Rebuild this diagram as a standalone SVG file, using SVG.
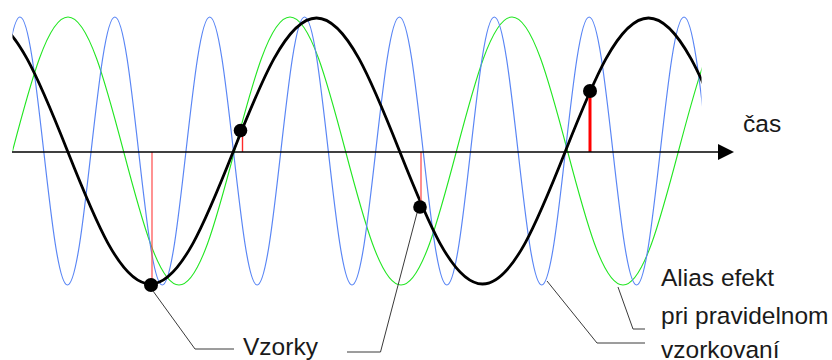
<svg xmlns="http://www.w3.org/2000/svg" width="832" height="360" viewBox="0 0 832 360">
<style>
.wave{fill:none;stroke-linejoin:round}
.blue{stroke:#5a86f5;stroke-width:1.2}
.green{stroke:#22e622;stroke-width:1.1}
.black{stroke:#000;stroke-width:2.8}
.lead{fill:none;stroke:#3a3a3a;stroke-width:1}
.smp{stroke:#ff2a2a}
.lbl{font-family:"Liberation Sans",Arial,sans-serif;font-size:24.5px;fill:#1a1a1a}
</style>
<defs>
<clipPath id="clip"><rect x="12.5" y="-10" width="689" height="380"/></clipPath>
</defs>
<rect width="832" height="360" fill="#fff"/>
<g id="waves" clip-path="url(#clip)">
<path id="green" class="wave green" d="M12.5,151 c18.1,-68.65 35.41,-134 55.5,-134 c20.09,0 37.4,65.35 55.5,134 c18.1,68.65 35.41,134 55.5,134 c20.09,0 37.4,-65.35 55.5,-134 c18.1,-68.65 35.41,-134 55.5,-134 c20.09,0 37.4,65.35 55.5,134 c18.1,68.65 35.41,134 55.5,134 c20.09,0 37.4,-65.35 55.5,-134 c18.1,-68.65 35.41,-134 55.5,-134 c20.09,0 37.4,65.35 55.5,134 c18.1,68.65 35.41,134 55.5,134 c20.09,0 37.4,-65.35 55.5,-134 c18.1,-68.65 35.41,-134 55.5,-134"/>
<path id="blue" class="wave blue" d="M-3.715,151 c7.734,-68.65 15.133,-134 23.715,-134 c8.583,0 15.982,65.35 23.715,134 c7.734,68.65 15.133,134 23.715,134 c8.583,0 15.982,-65.35 23.715,-134 c7.734,-68.65 15.133,-134 23.715,-134 c8.583,0 15.982,65.35 23.715,134 c7.734,68.65 15.133,134 23.715,134 c8.583,0 15.982,-65.35 23.715,-134 c7.734,-68.65 15.133,-134 23.715,-134 c8.583,0 15.982,65.35 23.715,134 c7.734,68.65 15.133,134 23.715,134 c8.583,0 15.982,-65.35 23.715,-134 c7.734,-68.65 15.133,-134 23.715,-134 c8.583,0 15.982,65.35 23.715,134 c7.734,68.65 15.133,134 23.715,134 c8.583,0 15.982,-65.35 23.715,-134 c7.734,-68.65 15.133,-134 23.715,-134 c8.583,0 15.982,65.35 23.715,134 c7.734,68.65 15.133,134 23.715,134 c8.583,0 15.982,-65.35 23.715,-134 c7.734,-68.65 15.133,-134 23.715,-134 c8.583,0 15.982,65.35 23.715,134 c7.734,68.65 15.133,134 23.715,134 c8.583,0 15.982,-65.35 23.715,-134 c7.734,-68.65 15.133,-134 23.715,-134 c8.583,0 15.982,65.35 23.715,134 c7.734,68.65 15.133,134 23.715,134 c8.583,0 15.982,-65.35 23.715,-134 c7.734,-68.65 15.133,-134 23.715,-134 c8.583,0 15.982,65.35 23.715,134 c7.734,68.65 15.133,134 23.715,134 c8.583,0 15.982,-65.35 23.715,-134"/>
<path id="black" class="wave black" d="M-98.5,151 c27.07,-68.14 52.96,-133 83,-133 c30.04,0 55.93,64.86 83,133 c27.07,68.14 52.96,133 83,133 c30.04,0 55.93,-64.86 83,-133 c27.07,-68.14 52.96,-133 83,-133 c30.04,0 55.93,64.86 83,133 c27.07,68.14 52.96,133 83,133 c30.04,0 55.93,-64.86 83,-133 c27.07,-68.14 52.96,-133 83,-133 c30.04,0 55.93,64.86 83,133"/>
</g>
<g id="samples">
<line class="smp" x1="152" y1="152" x2="152" y2="280" stroke-width="1.2" style="stroke:#ff4a4a"/>
<line class="smp" x1="242.5" y1="136" x2="242.5" y2="152" stroke-width="1.4"/>
<line class="smp" x1="421" y1="152" x2="421" y2="201" stroke-width="1.5" style="stroke:#ff6a6a"/>
<line class="smp" x1="590" y1="97" x2="590" y2="152" stroke-width="3" style="stroke:#ff0000"/>
</g>
<g id="axis">
<line x1="12" y1="152" x2="719" y2="152" stroke="#000" stroke-width="1.3"/>
<polygon points="718,144 734,152 718,160" fill="#000"/>
</g>
<g id="dots" fill="#000">
<circle cx="151" cy="285" r="7"/>
<circle cx="240.5" cy="130.5" r="6.8"/>
<circle cx="420" cy="207" r="6.8"/>
<circle cx="590" cy="91" r="7"/>
</g>
<g id="connectors">
<polyline class="lead" points="153,291 195,349 234,349"/>
<polyline class="lead" points="417,213 380.5,352 347,352"/>
<polyline class="lead" points="547,281 597,343 645,343"/>
<polyline class="lead" points="618,287 633,329 645,329"/>
</g>
<g id="labels">
<text class="lbl" x="743" y="132">čas</text>
<text class="lbl" x="243" y="355">Vzorky</text>
<text class="lbl" x="661" y="286">Alias efekt</text>
<text class="lbl" x="661" y="324">pri pravidelnom</text>
<text class="lbl" x="661" y="358">vzorkovaní</text>
</g>
</svg>
